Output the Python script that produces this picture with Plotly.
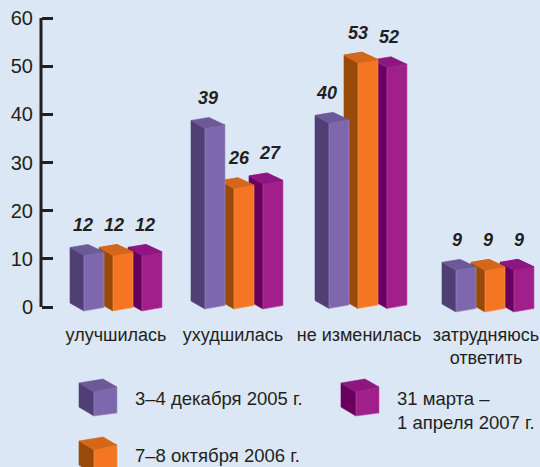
import plotly.graph_objects as go

categories = ["улучшилась", "ухудшилась", "не изменилась", "затрудняюсь<br>ответить"]
dec_2005 = [12, 39, 40, 9]
oct_2006 = [12, 26, 53, 9]
apr_2007 = [12, 27, 52, 9]
y_ticks = [0, 10, 20, 30, 40, 50, 60]

W, H = 540, 467
Y0_PX, Y60_PX = 307, 18
PX = (Y0_PX - Y60_PX) / 60
FONT = "Liberation Sans, sans-serif"
INK = "#231f20"
BG = "#dbe7f5"

series = [
    dict(name="3–4 декабря 2005 г.", values=dec_2005, front="#7e67ad", side="#503f75", top="#6d5898", edge="#a092c6"),
    dict(name="7–8 октября 2006 г.", values=oct_2006, front="#f47622", side="#9a4a08", top="#d6661a", edge="#f89a58"),
    dict(name="31 марта –<br>1 апреля 2007 г.", values=apr_2007, front="#a01f8a", side="#6a005e", top="#8e1680", edge="#bb52a8"),
]
group_left = [70, 191, 315, 442]
group_base = [311, 309, 308.5, 312]
group_label_left = [83, 208, 327, 457]
label_x = [116, 233, 359, 486]
BAR_STEP, SIDE_W, FRONT_W = 29, 14, 20
LABEL_STEP = 31
BAR_SCALE = 4.63
LABEL_GAP = 29


def to_y(px):
    return (Y0_PX - px) / PX


fig = go.Figure()


def poly(xs, ys, color, edge=None):
    fig.add_trace(go.Scatter(
        x=xs + xs[:1], y=[to_y(p) for p in ys + ys[:1]], mode="lines", fill="toself",
        fillcolor=color, line=dict(color=edge or color, width=0.6),
        hoverinfo="skip", showlegend=False))


def faces(x0, top_y, base_y, s, which=("side", "front", "top")):
    xa, xb, xc = x0, x0 + SIDE_W, x0 + SIDE_W + FRONT_W
    if "side" in which:
        poly([xa, xb, xb, xa], [top_y - 8, top_y, base_y, base_y - 8], s["side"])
    if "front" in which:
        poly([xb, xc, xc, xb], [top_y, top_y - 3.5, base_y - 3.5, base_y], s["front"], s["edge"])
    if "top" in which:
        poly([xa, xb, xc, x0 + 18], [top_y - 8, top_y, top_y - 3.5, top_y - 11], s["top"])


for g, left in enumerate(group_left):
    base = group_base[g]
    for k in (2, 1, 0):
        s = series[k]
        faces(left + k * BAR_STEP, base - BAR_SCALE * s["values"][g], base, s)
    for k in (1, 2):
        if series[k]["values"][g] >= series[k - 1]["values"][g]:
            s = series[k]
            faces(left + k * BAR_STEP, base - BAR_SCALE * s["values"][g], base, s, which=("top",))
    for k in range(3):
        s = series[k]
        v = s["values"][g]
        fig.add_trace(go.Scatter(
            x=[group_label_left[g] + k * LABEL_STEP], y=[to_y(base - BAR_SCALE * v - LABEL_GAP)],
            mode="text", text=[str(v)], hoverinfo="skip", showlegend=False,
            textfont=dict(family="Liberation Sans", size=18, color=INK, weight="bold", style="italic")))

# legend cubes, same faces as the bars
legend_pos = [(79, 392), (79, 450), (341, 392)]
for (x, y), s in zip(legend_pos, series):
    xa, xb, xc = x, x + 15, x + 38
    poly([xa, xb, xb, xa], [y - 9, y, y + 24, y + 15], s["side"])
    poly([xb, xc, xc, xb], [y, y - 5, y + 21, y + 24], s["front"], s["edge"])
    poly([xa, xb, xc, x + 24], [y - 9, y, y - 5, y - 13], s["top"])

legend_text = [(133, 398), (133, 455), (395, 410)]
for (x, y), s in zip(legend_text, series):
    fig.add_annotation(x=x / W, y=1 - y / H, xref="paper", yref="paper", text=s["name"],
                       showarrow=False, xanchor="left", yanchor="middle", align="left",
                       font=dict(family=FONT, size=18.5, color=INK))

# y axis line, only from first to last tick
fig.add_shape(type="line", xref="x", yref="y", x0=41, x1=41, y0=y_ticks[0], y1=y_ticks[-1],
              line=dict(color=INK, width=3))

fig.update_layout(
    width=W, height=H, margin=dict(l=0, r=0, t=0, b=0),
    paper_bgcolor=BG, plot_bgcolor=BG, showlegend=False,
    xaxis=dict(range=[0, W], domain=[0, 1], tickmode="array", tickvals=label_x, ticktext=categories,
               showgrid=False, zeroline=False, showline=False, anchor="free", position=1 - Y0_PX / H,
               ticks="outside", ticklen=11, tickcolor="rgba(0,0,0,0)",
               tickfont=dict(family=FONT, size=18, color=INK)),
    yaxis=dict(range=[to_y(H), to_y(0)], domain=[0, 1], tickmode="array", tickvals=y_ticks,
               anchor="free", position=41 / W, showline=False,
               ticks="inside", ticklen=11, tickwidth=3, tickcolor=INK, showgrid=False, zeroline=False,
               ticklabelstandoff=8,
               tickfont=dict(family=FONT, size=20, color=INK)),
)
fig.write_html("out.html", config=dict(displayModeBar=False),
               post_script="document.body.style.margin='0';document.body.style.background='%s';" % BG)
